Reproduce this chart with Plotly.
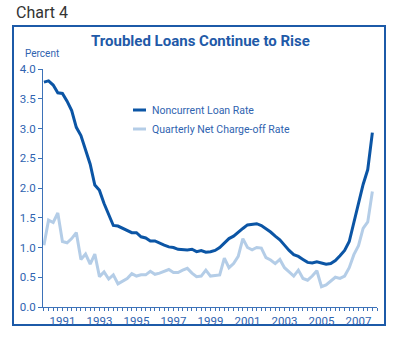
import plotly.graph_objects as go

# Quarterly observations, 1990 Q1 through 2007 Q4 (percent)
start_year = 1990
noncurrent_rate = [
    3.78, 3.80, 3.73, 3.60, 3.59, 3.46, 3.30, 3.02,
    2.88, 2.62, 2.40, 2.05, 1.96, 1.74, 1.55, 1.37,
    1.36, 1.32, 1.29, 1.25, 1.25, 1.18, 1.16, 1.11,
    1.11, 1.07, 1.04, 1.01, 1.00, 0.97, 0.96, 0.96,
    0.97, 0.93, 0.95, 0.92, 0.93, 0.95, 1.00, 1.08,
    1.15, 1.19, 1.26, 1.32, 1.38, 1.39, 1.40, 1.37,
    1.32, 1.26, 1.19, 1.13, 1.04, 0.95, 0.88, 0.85,
    0.80, 0.75, 0.74, 0.76, 0.74, 0.72, 0.73, 0.78,
    0.86, 0.95, 1.10, 1.42, 1.69, 2.06, 2.31, 2.93,
]
net_chargeoff_rate = [
    1.04, 1.46, 1.42, 1.58, 1.10, 1.08, 1.15, 1.25,
    0.80, 0.89, 0.72, 0.89, 0.51, 0.59, 0.47, 0.54,
    0.39, 0.44, 0.48, 0.56, 0.52, 0.54, 0.54, 0.60,
    0.55, 0.57, 0.60, 0.63, 0.58, 0.58, 0.62, 0.65,
    0.57, 0.51, 0.52, 0.62, 0.52, 0.53, 0.54, 0.82,
    0.66, 0.73, 0.85, 1.15, 1.00, 0.96, 1.00, 0.99,
    0.83, 0.79, 0.73, 0.80, 0.66, 0.59, 0.52, 0.62,
    0.48, 0.45, 0.52, 0.61, 0.34, 0.37, 0.43, 0.50,
    0.48, 0.52, 0.66, 0.88, 1.03, 1.32, 1.43, 1.94,
]
year_ticks = [1991, 1993, 1995, 1997, 1999, 2001, 2003, 2005, 2007]
year_labels = [str(y) for y in year_ticks]
series_names = ["Noncurrent Loan Rate", "Quarterly Net Charge-off Rate"]

quarters = [start_year + i / 4 for i in range(len(noncurrent_rate))]

DARK = "#0b55a5"
LIGHT = "#b4cde7"
TEXT_BLUE = "#2f63b0"
AXIS_BLUE = "#3d72b8"
FONT = "Roboto, sans-serif"

W, H = 400, 339
L, R, T, B = 43, 377, 69, 307  # plot area in pixels


def px(x):
    return (x - L) / (R - L)


def py(y):
    return (B - y) / (B - T)


fig = go.Figure()
fig.add_trace(go.Scatter(x=quarters, y=net_chargeoff_rate, mode="lines",
                         line=dict(color=LIGHT, width=3), name=series_names[1]))
fig.add_trace(go.Scatter(x=quarters, y=noncurrent_rate, mode="lines",
                         line=dict(color=DARK, width=3), name=series_names[0]))

shapes = [
    # outer chart frame
    dict(type="rect", xref="paper", yref="paper",
         x0=px(13), x1=px(385), y0=py(325), y1=py(26),
         line=dict(color="#1c5aa8", width=2), fillcolor="rgba(0,0,0,0)", layer="below"),
    # legend keys
    dict(type="line", xref="paper", yref="paper",
         x0=px(133), x1=px(146), y0=py(110), y1=py(110),
         line=dict(color=DARK, width=3)),
    dict(type="line", xref="paper", yref="paper",
         x0=px(133), x1=px(146), y0=py(129), y1=py(129),
         line=dict(color=LIGHT, width=3)),
]

annotations = [
    dict(text="Chart 4", xref="paper", yref="paper", x=px(14), y=py(13),
         xanchor="left", yanchor="middle", showarrow=False,
         font=dict(family=FONT, size=16, color="#333333")),
    dict(text="<b>Troubled Loans Continue to Rise</b>", xref="paper", yref="paper",
         x=px(200), y=py(41), xanchor="center", yanchor="middle", showarrow=False,
         font=dict(family=FONT, size=15, color="#1f5aa8")),
    dict(text="Percent", xref="paper", yref="paper", x=px(23), y=py(53),
         xanchor="left", yanchor="middle", showarrow=False,
         font=dict(family=FONT, size=10, color=TEXT_BLUE)),
    dict(text=series_names[0], xref="paper", yref="paper", x=px(150), y=py(110),
         xanchor="left", yanchor="middle", showarrow=False,
         font=dict(family=FONT, size=10.5, color=TEXT_BLUE)),
    dict(text=series_names[1], xref="paper", yref="paper", x=px(150), y=py(129),
         xanchor="left", yanchor="middle", showarrow=False,
         font=dict(family=FONT, size=10.5, color=TEXT_BLUE)),
]

fig.update_layout(
    width=W, height=H,
    margin=dict(l=L, r=W - R, t=T, b=H - B),
    paper_bgcolor="white", plot_bgcolor="white",
    showlegend=False,
    shapes=shapes, annotations=annotations,
    xaxis=dict(
        range=[start_year - 0.05, 2008.0],
        tickvals=year_ticks, ticktext=year_labels,
        ticks="outside", ticklen=3, tickwidth=1, tickcolor=AXIS_BLUE,
        minor=dict(dtick=0.25, tick0=start_year, ticks="outside", ticklen=3,
                   tickwidth=1, tickcolor=AXIS_BLUE, showgrid=False),
        showline=True, linecolor=AXIS_BLUE, linewidth=1,
        showgrid=False, zeroline=False,
        tickfont=dict(family=FONT, size=11.5, color=TEXT_BLUE),
    ),
    yaxis=dict(
        range=[0, 4], dtick=0.5, tickformat=".1f",
        ticks="outside", ticklen=4, tickwidth=1, tickcolor=AXIS_BLUE,
        showline=True, linecolor=AXIS_BLUE, linewidth=1,
        showgrid=False, zeroline=False,
        tickfont=dict(family=FONT, size=11.5, color=TEXT_BLUE),
    ),
)

fig.write_html("out.html")
